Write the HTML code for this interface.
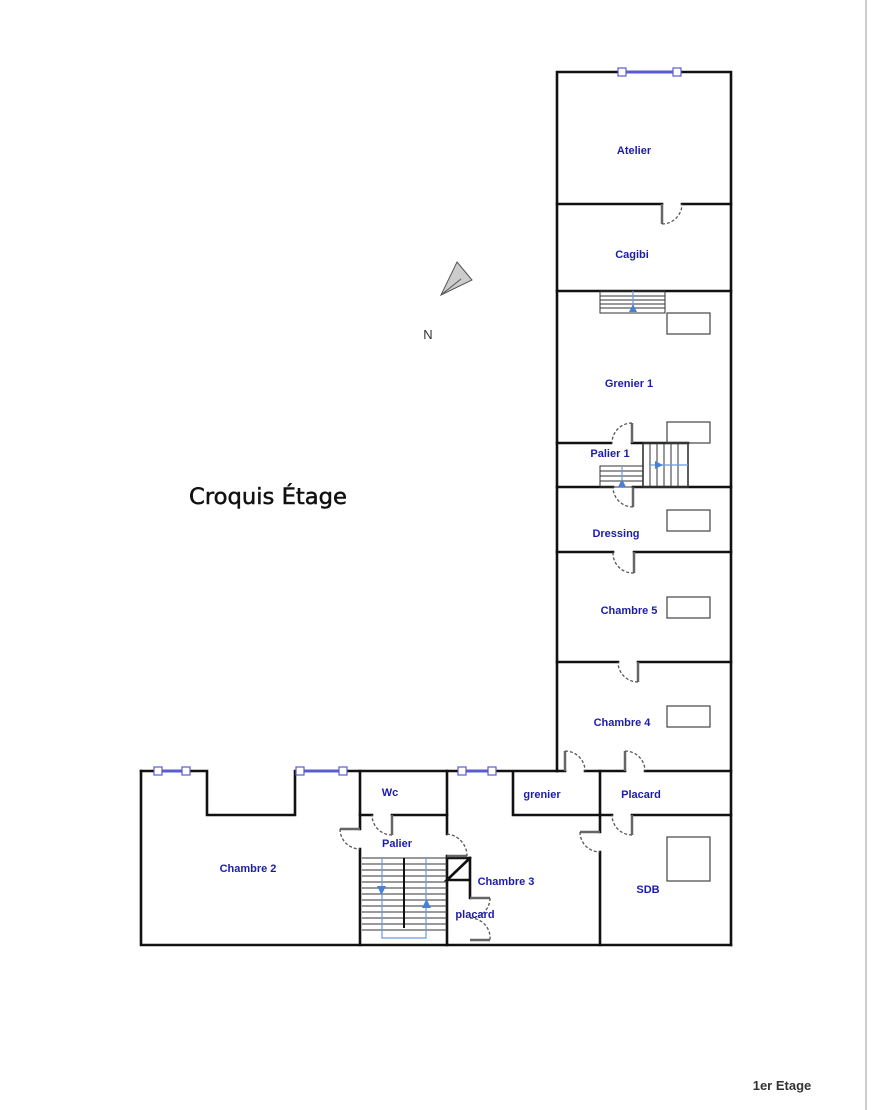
<!DOCTYPE html>
<html><head><meta charset="utf-8"><style>
html,body{margin:0;padding:0;background:#fff;}
svg{display:block}
.w{stroke:#111;stroke-width:2.6;fill:none;stroke-linecap:square}
.d{stroke:#555;stroke-width:1.3;fill:none;stroke-dasharray:3,2}
.s{stroke:#666;stroke-width:2.5;fill:none}
.f{stroke:#444;stroke-width:1.2;fill:none}
.st{stroke:#333;stroke-width:1;}
.l{font-family:"Liberation Sans",sans-serif;font-weight:bold;font-size:11px;fill:#1c1ca8;text-anchor:middle}
.win{fill:#fff;stroke:#5b5bd0;stroke-width:1.2}
.bl{stroke:#6a9ae0;stroke-width:1.2;fill:none}
</style></head><body>
<svg width="880" height="1110" viewBox="0 0 880 1110" xmlns="http://www.w3.org/2000/svg">
<line x1="866" y1="0" x2="866" y2="1110" stroke="#999" stroke-width="1"/>
<path class="w" d="M557,72 H731 V945 M557,72 V771"/>
<path class="w" d="M557,204 H662 M682,204 H731"/>
<path class="w" d="M557,291 H731"/>
<path class="w" d="M557,443 H611 M632,443 H688"/>
<path class="w" d="M557,487 H613 M633,487 H731"/>
<path class="w" d="M557,552 H613 M634,552 H731"/>
<path class="w" d="M557,662 H618 M638,662 H731"/>
<path class="w" d="M557,771 H565 M585,771 H625 M645,771 H731"/>
<line class="s" x1="662" y1="204" x2="662" y2="224"/><path class="d" d="M662,224 A20,20 0 0 0 682,204"/>
<line class="s" x1="632" y1="443" x2="632" y2="423"/><path class="d" d="M632,423 A20,20 0 0 0 612,443"/>
<line class="s" x1="633" y1="487" x2="633" y2="507"/><path class="d" d="M633,507 A20,20 0 0 1 613,487"/>
<line class="s" x1="634" y1="552" x2="634" y2="573"/><path class="d" d="M634,573 A20,20 0 0 1 613,552"/>
<line class="s" x1="638" y1="662" x2="638" y2="682"/><path class="d" d="M638,682 A20,20 0 0 1 618,662"/>
<line class="s" x1="565" y1="771" x2="565" y2="751"/><path class="d" d="M565,751 A20,20 0 0 1 585,771"/>
<line class="s" x1="625" y1="771" x2="625" y2="751"/><path class="d" d="M625,751 A20,20 0 0 1 645,771"/>
<line x1="622" y1="72" x2="677" y2="72" stroke="#5b5bd0" stroke-width="3"/>
<rect class="win" x="618" y="68" width="8" height="8"/><rect class="win" x="673" y="68" width="8" height="8"/>
<g class="st"><rect x="600" y="291" width="65" height="22" fill="none"/>
<line x1="600" y1="296" x2="665" y2="296"/><line x1="600" y1="300" x2="665" y2="300"/><line x1="600" y1="304" x2="665" y2="304"/><line x1="600" y1="308" x2="665" y2="308"/></g>
<line class="bl" x1="633" y1="291" x2="633" y2="312"/><polygon points="629,312 637,312 633,304" fill="#4a7fd6"/>
<g class="st"><rect x="600" y="466" width="43" height="21" fill="none"/>
<line x1="600" y1="471" x2="643" y2="471"/><line x1="600" y1="476" x2="643" y2="476"/><line x1="600" y1="481" x2="643" y2="481"/>
<rect x="643" y="443" width="45" height="44" fill="none" stroke-width="1.6"/>
<line x1="650" y1="443" x2="650" y2="487"/><line x1="657" y1="443" x2="657" y2="487"/><line x1="664" y1="443" x2="664" y2="487"/><line x1="671" y1="443" x2="671" y2="487"/><line x1="678" y1="443" x2="678" y2="487"/></g>
<line class="bl" x1="622" y1="466" x2="622" y2="487"/><polygon points="618,487 626,487 622,479" fill="#4a7fd6"/>
<line class="bl" x1="650" y1="465" x2="688" y2="465"/><polygon points="655,461 655,469 663,465" fill="#4a7fd6"/>
<g class="f"><rect x="667" y="313" width="43" height="21"/><rect x="667" y="422" width="43" height="21"/><rect x="667" y="510" width="43" height="21"/><rect x="667" y="597" width="43" height="21"/><rect x="667" y="706" width="43" height="21"/><rect x="667" y="837" width="43" height="44"/></g>
<path class="w" d="M141,771 H207 V815 H295 V771 H513 V815 H600 M557,771 H513"/>
<path class="w" d="M141,771 V945 H731"/>
<path class="w" d="M600,771 V832 M600,852 V945"/>
<path class="w" d="M600,815 H612 M632,815 H731"/>
<path class="w" d="M360,771 V829 M360,849 V945"/>
<path class="w" d="M360,815 H372 M392,815 H447"/>
<path class="w" d="M447,771 V834 M447,856 V945"/>
<path class="w" d="M447,858 H470 V880 H447 L470,858 M470,880 V898"/>
<line class="s" x1="632" y1="815" x2="632" y2="835"/><path class="d" d="M632,835 A20,20 0 0 1 612,815"/>
<line class="s" x1="580" y1="832" x2="600" y2="832"/><path class="d" d="M580,832 A20,20 0 0 0 600,852"/>
<line class="s" x1="340" y1="829" x2="360" y2="829"/><path class="d" d="M340,829 A20,20 0 0 0 360,849"/>
<line class="s" x1="392" y1="815" x2="392" y2="835"/><path class="d" d="M392,835 A20,20 0 0 1 372,815"/>
<line class="s" x1="447" y1="856" x2="467" y2="856"/><path class="d" d="M447,834 A22,22 0 0 1 467,856"/>
<line class="s" x1="470" y1="898" x2="490" y2="898"/><path class="d" d="M490,898 A20,20 0 0 1 470,918"/>
<line class="s" x1="470" y1="940" x2="490" y2="940"/><path class="d" d="M470,918 A20,20 0 0 1 490,940"/>
<g><line x1="158" y1="771" x2="186" y2="771" stroke="#5b5bd0" stroke-width="3"/><rect class="win" x="154" y="767" width="8" height="8"/><rect class="win" x="182" y="767" width="8" height="8"/>
<line x1="300" y1="771" x2="343" y2="771" stroke="#5b5bd0" stroke-width="3"/><rect class="win" x="296" y="767" width="8" height="8"/><rect class="win" x="339" y="767" width="8" height="8"/>
<line x1="462" y1="771" x2="492" y2="771" stroke="#5b5bd0" stroke-width="3"/><rect class="win" x="458" y="767" width="8" height="8"/><rect class="win" x="488" y="767" width="8" height="8"/></g>
<g class="st">
<line x1="362" y1="858" x2="447" y2="858"/><line x1="362" y1="864" x2="447" y2="864"/><line x1="362" y1="870" x2="447" y2="870"/><line x1="362" y1="876" x2="447" y2="876"/><line x1="362" y1="882" x2="447" y2="882"/><line x1="362" y1="888" x2="447" y2="888"/><line x1="362" y1="894" x2="447" y2="894"/><line x1="362" y1="900" x2="447" y2="900"/><line x1="362" y1="906" x2="447" y2="906"/><line x1="362" y1="912" x2="447" y2="912"/><line x1="362" y1="918" x2="447" y2="918"/><line x1="362" y1="924" x2="447" y2="924"/><line x1="362" y1="930" x2="447" y2="930"/>
</g>
<line x1="404" y1="858" x2="404" y2="928" stroke="#111" stroke-width="2"/>
<path class="bl" d="M382,858 V938 H426 V858"/>
<polygon points="377,886 386,886 381.5,895" fill="#4a7fd6"/><polygon points="422,908 431,908 426.5,899" fill="#4a7fd6"/>
<polygon points="457,262 472,280 441,295" fill="#ccc" stroke="#555" stroke-width="1"/>
<line x1="441" y1="295" x2="461" y2="279" stroke="#555" stroke-width="1"/>
<text x="428" y="339" font-family="Liberation Sans,sans-serif" font-size="13" fill="#333" text-anchor="middle">N</text>
<text x="189" y="504" font-family="DejaVu Sans,sans-serif" font-size="22" fill="#111" stroke="#111" stroke-width="0.5" textLength="158" lengthAdjust="spacingAndGlyphs">Croquis Étage</text>
<text class="l" x="634" y="154">Atelier</text>
<text class="l" x="632" y="258">Cagibi</text>
<text class="l" x="629" y="387">Grenier 1</text>
<text class="l" x="610" y="457">Palier 1</text>
<text class="l" x="616" y="537">Dressing</text>
<text class="l" x="629" y="614">Chambre 5</text>
<text class="l" x="622" y="726">Chambre 4</text>
<text class="l" x="542" y="798">grenier</text>
<text class="l" x="641" y="798">Placard</text>
<text class="l" x="390" y="796">Wc</text>
<text class="l" x="397" y="847">Palier</text>
<text class="l" x="248" y="872">Chambre 2</text>
<text class="l" x="506" y="885">Chambre 3</text>
<text class="l" x="475" y="918">placard</text>
<text class="l" x="648" y="893">SDB</text>
<text x="782" y="1090" font-family="Liberation Sans,sans-serif" font-size="13" font-weight="bold" fill="#333" text-anchor="middle">1er Etage</text>
</svg>
</body></html>
